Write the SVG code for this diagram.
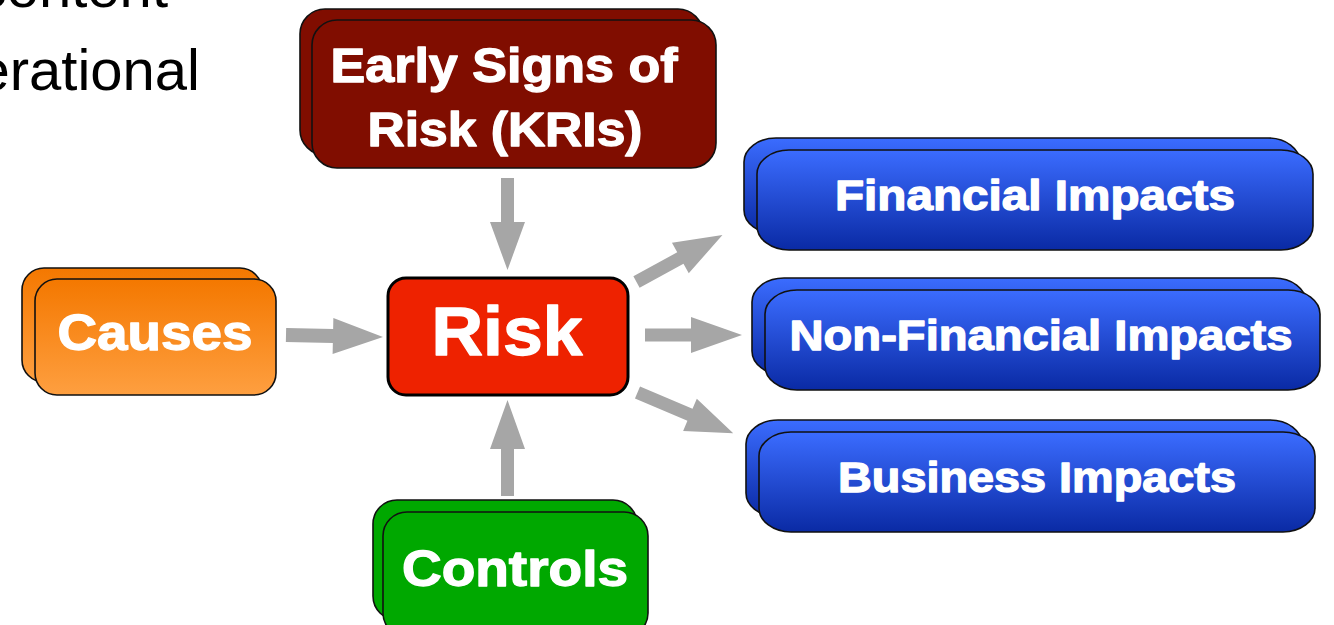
<svg xmlns="http://www.w3.org/2000/svg" width="1334" height="625" viewBox="0 0 1334 625">
<defs>
<linearGradient id="gOrange" x1="0" y1="0" x2="0" y2="1"><stop offset="0" stop-color="#f47800"/><stop offset="1" stop-color="#fe9f40"/></linearGradient>
<linearGradient id="gBlue" x1="0" y1="0" x2="0" y2="1"><stop offset="0" stop-color="#3b6cff"/><stop offset="1" stop-color="#0a2aa4"/></linearGradient>
<style>
.box{stroke:#111;stroke-width:1.6}
.kri{fill:#800d00}
.org{fill:url(#gOrange)}
.grn{fill:#00a800}
.blu{fill:url(#gBlue)}
.lbl{font-family:"Liberation Sans",Arial,sans-serif;font-weight:bold;fill:#fff;stroke:#fff;stroke-width:1.3;stroke-linejoin:round;text-anchor:middle}
.bg{font-family:"Liberation Sans",Arial,sans-serif;fill:#000;text-anchor:end;font-size:58px}
.arr{fill:#a6a6a6}
</style>
</defs>
<rect width="1334" height="625" fill="#fff"/>
<g id="bgtext">
<text class="bg" x="168" y="7">content</text>
<text class="bg" x="200" y="90">erational</text>
</g>
<g id="kri">
<rect class="box kri" x="300" y="9" width="403" height="146" rx="25"/>
<rect class="box kri" x="312" y="20" width="404" height="148" rx="25"/>
<text class="lbl" x="504" y="82" font-size="48" textLength="347" lengthAdjust="spacingAndGlyphs">Early Signs of</text>
<text class="lbl" x="505" y="146" font-size="48" textLength="275" lengthAdjust="spacingAndGlyphs">Risk (KRIs)</text>
</g>
<g id="causes">
<rect class="box org" x="22" y="268" width="240" height="114" rx="22"/>
<rect class="box org" x="35" y="279" width="241" height="116" rx="22"/>
<text class="lbl" x="155" y="350" font-size="50" textLength="195" lengthAdjust="spacingAndGlyphs">Causes</text>
</g>
<g id="risk">
<rect x="388" y="278" width="240" height="117" rx="18" fill="#ee2200" stroke="#000" stroke-width="3"/>
<text class="lbl" x="507" y="355" font-size="68" textLength="151" lengthAdjust="spacingAndGlyphs">Risk</text>
</g>
<g id="controls">
<rect class="box grn" x="373" y="500" width="264" height="120" rx="24"/>
<rect class="box grn" x="383" y="512" width="265" height="125" rx="24"/>
<text class="lbl" x="515" y="586" font-size="50" textLength="226" lengthAdjust="spacingAndGlyphs">Controls</text>
</g>
<g id="financial">
<rect class="box blu" x="744" y="138" width="556" height="96" rx="32" ry="24"/>
<rect class="box blu" x="757" y="150" width="556" height="100" rx="32" ry="24"/>
<text class="lbl" x="1035" y="210" font-size="42" textLength="400" lengthAdjust="spacingAndGlyphs">Financial Impacts</text>
</g>
<g id="nonfinancial">
<rect class="box blu" x="752" y="278" width="554" height="97" rx="32" ry="24"/>
<rect class="box blu" x="765" y="290" width="555" height="100" rx="32" ry="24"/>
<text class="lbl" x="1041" y="350" font-size="42" textLength="503" lengthAdjust="spacingAndGlyphs">Non-Financial Impacts</text>
</g>
<g id="business">
<rect class="box blu" x="746" y="420" width="556" height="97" rx="32" ry="24"/>
<rect class="box blu" x="759" y="432" width="556" height="100" rx="32" ry="24"/>
<text class="lbl" x="1037" y="492" font-size="42" textLength="398" lengthAdjust="spacingAndGlyphs">Business Impacts</text>
</g>
<g id="connectors">
<path class="arr" transform="translate(286,335) rotate(1.2)" d="M0,-7 H47 V-18 L97,0 L47,18 V7 H0 Z"/>
<path class="arr" transform="translate(507.5,178) rotate(90)" d="M0,-6.5 H44 V-17.5 L92,0 L44,17.5 V6.5 H0 Z"/>
<path class="arr" transform="translate(507.5,496) rotate(-90)" d="M0,-6.5 H47 V-17.5 L96,0 L47,17.5 V6.5 H0 Z"/>
<path class="arr" transform="translate(645,335)" d="M0,-6.5 H46 V-18 L97,0 L46,18 V6.5 H0 Z"/>
<path class="arr" transform="translate(636.5,282) rotate(-28.7)" d="M0,-6.5 H50 V-17.5 L98,0 L50,17.5 V6.5 H0 Z"/>
<path class="arr" transform="translate(637.5,392.5) rotate(23)" d="M0,-6.5 H57 V-17.5 L104,0 L57,17.5 V6.5 H0 Z"/>
</g>
</svg>
